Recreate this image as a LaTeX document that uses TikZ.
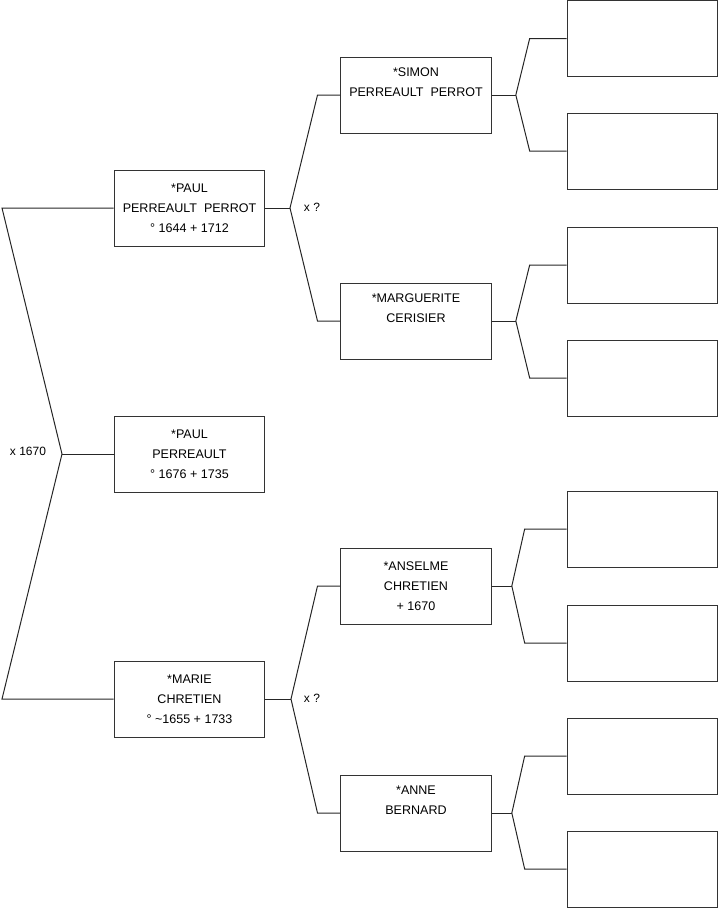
\documentclass[tikz,border=0pt]{standalone}
\usepackage{fontspec}
\setmainfont{Liberation Sans}
\tikzset{
  person/.style={draw=black!80, line width=0.75pt, minimum width=113pt, minimum height=57pt,
    align=center, inner sep=0pt, font=\fontsize{9.4}{15}\selectfont},
  blankbox/.style={person},
  link/.style={draw=black!85, line width=0.75pt},
  marr/.style={font=\fontsize{9}{11}\selectfont, inner sep=0pt}
}
\begin{document}
\begin{tikzpicture}[x=0.75pt, y=-0.75pt]
  \useasboundingbox (0,0) rectangle (719,908);

  % Sujet et parents
  \node[person] (root) at (189.5,454) {*PAUL\\PERREAULT\\° 1676 + 1735};
  \node[person] (pere) at (189.5,208) {*PAUL\\PERREAULT~~PERROT\\° 1644 + 1712};
  \node[person] (mere) at (189.5,699) {*MARIE\\CHRETIEN\\° \textasciitilde1655 + 1733};

  % Grands-parents
  \node[person] (sim) at (416,95) {*SIMON\\PERREAULT~~PERROT\\\strut};
  \node[person] (mar) at (416,321) {*MARGUERITE\\CERISIER\\\strut};
  \node[person] (ans) at (416,586) {*ANSELME\\CHRETIEN\\+ 1670};
  \node[person] (ann) at (416,813) {*ANNE\\BERNARD\\\strut};

  % Arriere-grands-parents (vides)
  \foreach \y [count=\i] in {38.5,151,265,378,529,643,756,869}
    \node[blankbox] (e\i) at (642.5,\y) {};

  % Union des parents
  \coordinate (f0) at (62,454);
  \coordinate (a0) at (2,208);
  \coordinate (b0) at (2,699);
  \draw[link] (root.west) -- (f0);
  \draw[link] (pere.west) -- (a0) -- (f0) -- (b0) -- (mere.west);
  \node[marr] (u0) at (28,451) {x 1670};

  % Unions des grands-parents
  \coordinate (f1) at (290,208);
  \coordinate (f2) at (291,699);
  \coordinate (c1) at ([xshift=-17pt]sim.west);
  \coordinate (c2) at ([xshift=-17pt]mar.west);
  \coordinate (c3) at ([xshift=-17pt]ans.west);
  \coordinate (c4) at ([xshift=-17pt]ann.west);
  \draw[link] (pere.east) -- (f1);
  \draw[link] (sim.west) -- (c1) -- (f1) -- (c2) -- (mar.west);
  \draw[link] (mere.east) -- (f2);
  \draw[link] (ans.west) -- (c3) -- (f2) -- (c4) -- (ann.west);
  \node[marr] (u1) at (312,207) {x ?};
  \node[marr] (u2) at (312,698) {x ?};

  % Branches vers les arriere-grands-parents
  \foreach \n/\fs/\cs/\a/\b in {sim/18/-27.75/1/2, mar/18/-27.75/3/4, ans/15/-31.5/5/6, ann/15/-31.5/7/8} {
    \coordinate (k\n) at ([xshift=\fs pt]\n.east);
    \coordinate (t\n) at ([xshift=\cs pt]e\a.west);
    \coordinate (d\n) at ([xshift=\cs pt]e\b.west);
    \draw[link] (\n.east) -- (k\n);
    \draw[link] (e\a.west) -- (t\n) -- (k\n) -- (d\n) -- (e\b.west);
  }
\end{tikzpicture}
\end{document}
